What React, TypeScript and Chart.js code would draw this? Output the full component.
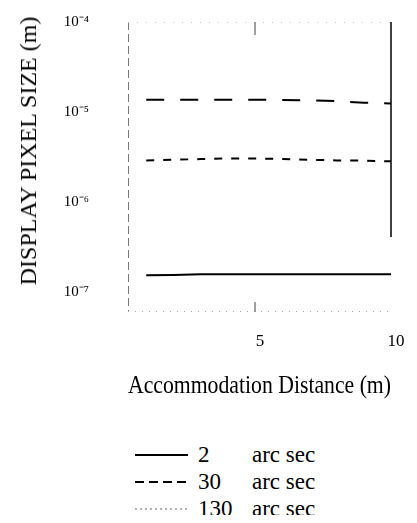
import React, { useEffect, useRef } from "react";
import { Chart, registerables } from "chart.js";

Chart.register(...registerables);

// ---- data ----
const distances = [1, 2, 3, 4, 5, 6, 7, 8, 9, 10];
const series2 = [1.54e-7, 1.55e-7, 1.58e-7, 1.58e-7, 1.58e-7, 1.58e-7, 1.58e-7, 1.58e-7, 1.58e-7, 1.58e-7];
const series30 = [2.9e-6, 2.95e-6, 3.0e-6, 3.05e-6, 3.05e-6, 3.0e-6, 2.95e-6, 2.9e-6, 2.88e-6, 2.83e-6];
const series130 = [1.37e-5, 1.37e-5, 1.37e-5, 1.37e-5, 1.37e-5, 1.36e-5, 1.35e-5, 1.32e-5, 1.27e-5, 1.24e-5];
const seriesNumbers = ["2", "30", "130"];
const unitLabel = "arc sec";
const xTicks = [5, 10];
const yTicks = [1e-7, 1e-6, 1e-5, 1e-4];
const yTickLabels = ["10⁻⁷", "10⁻⁶", "10⁻⁵", "10⁻⁴"];
const xTitle = "Accommodation Distance (m)";
const yTitle = "DISPLAY PIXEL SIZE (m)";

const X_MIN = 0.33;
const X_MAX = 10;
const Y_MIN = 6.2e-8;
const Y_MAX = 1e-4;

const SERIF = '"Liberation Serif", "Times New Roman", serif';

// frame (scanned-look borders) and inner tick marks at the first x tick
const frame = {
  id: "frame",
  afterDraw(chart: any) {
    const { ctx, chartArea, scales } = chart;
    const { left, right, top, bottom } = chartArea;
    const seg = (x1: number, y1: number, x2: number, y2: number, color: string, w: number, dash: number[]) => {
      ctx.save();
      ctx.strokeStyle = color;
      ctx.lineWidth = w;
      ctx.setLineDash(dash);
      ctx.beginPath();
      ctx.moveTo(x1, y1);
      ctx.lineTo(x2, y2);
      ctx.stroke();
      ctx.restore();
    };
    // left axis: grey dashed
    seg(left + 0.5, top, left + 0.5, bottom, "#777", 1, [8, 4]);
    // top: faint dotted
    seg(left, top + 0.5, right, top + 0.5, "#c8c8c8", 1, [1, 8]);
    // bottom: faint dotted
    seg(left, bottom - 0.5, right, bottom - 0.5, "#aaa", 1, [1, 6]);
    // right axis: solid black, upper part only
    seg(right, top, right, top + 215, "#000", 1.5, []);
    // inner tick marks at x = 5
    const px = scales.x.getPixelForValue(xTicks[0]);
    seg(px, top, px, top + 13, "#808080", 1.5, []);
    seg(px, bottom, px, bottom - 10, "#808080", 1.5, []);
  },
};

function ChartCanvas() {
  const ref = useRef<HTMLCanvasElement | null>(null);
  useEffect(() => {
    if (!ref.current) return;
    const toPts = (ys: number[]) => distances.map((x, i) => ({ x, y: ys[i] }));
    const base = { borderColor: "#000", borderWidth: 2, pointRadius: 0, fill: false, tension: 0 };
    const chart = new Chart(ref.current, {
      type: "line",
      data: {
        datasets: [
          { ...base, label: `${seriesNumbers[0]} ${unitLabel}`, data: toPts(series2) },
          { ...base, label: `${seriesNumbers[1]} ${unitLabel}`, data: toPts(series30), borderDash: [8, 9] },
          { ...base, label: `${seriesNumbers[2]} ${unitLabel}`, data: toPts(series130), borderDash: [18, 16] },
        ],
      },
      options: {
        animation: false,
        responsive: false,
        maintainAspectRatio: false,
        layout: { padding: { top: 14, right: 26, left: 0, bottom: 0 } },
        plugins: { legend: { display: false }, tooltip: { enabled: false } },
        scales: {
          x: {
            type: "linear",
            min: X_MIN,
            max: X_MAX,
            afterBuildTicks: (s: any) => {
              s.ticks = xTicks.map((v) => ({ value: v }));
            },
            afterFit: (s: any) => {
              s.height = 90;
            },
            grid: { display: false },
            border: { display: false },
            ticks: {
              font: { family: SERIF, size: 17 },
              color: "#000",
              padding: 11,
              labelOffset: 5,
              maxRotation: 0,
            },
            title: {
              display: true,
              text: xTitle,
              font: { family: SERIF, size: 26 },
              color: "#000",
              padding: { top: 27, bottom: 0 },
            },
          },
          y: {
            type: "logarithmic",
            min: Y_MIN,
            max: Y_MAX,
            afterBuildTicks: (s: any) => {
              s.ticks = yTicks.map((v) => ({ value: v }));
            },
            afterFit: (s: any) => {
              s.width = 120;
              s.paddingTop = 8;
              s.paddingBottom = 8;
            },
            grid: { display: false },
            border: { display: false },
            ticks: {
              font: { family: SERIF, size: 15 },
              color: "#000",
              padding: 31,
              callback: (_v: any, i: number) => yTickLabels[i],
            },
          },
        },
      } as any,
      plugins: [frame],
    });
    return () => chart.destroy();
  }, []);
  return <canvas ref={ref} width={409} height={394} style={{ display: "block" }} />;
}

const legendStyles = [
  { stroke: "#000", dash: "", width: 2 },
  { stroke: "#000", dash: "9 5", width: 1.8 },
  { stroke: "#9a9a9a", dash: "2 3", width: 1.3 },
];

export default function App() {
  return (
    <div
      style={{
        position: "relative",
        width: 409,
        height: 507,
        fontFamily: SERIF,
        color: "#000",
      }}
    >
      <ChartCanvas />
      <div
        style={{
          position: "absolute",
          left: 20,
          top: 143,
          transform: "translate(-50%, -50%) rotate(-90deg)",
          whiteSpace: "nowrap",
          fontSize: 24,
          lineHeight: "24px",
        }}
      >
        {yTitle}
      </div>
      {seriesNumbers.map((n, i) => (
        <div
          key={n}
          style={{
            position: "absolute",
            left: 127,
            top: 447 + i * 27 - 14,
            height: 28,
            display: "flex",
            alignItems: "center",
            fontSize: 23,
            whiteSpace: "nowrap",
          }}
        >
          <svg width={53} height={6} style={{ display: "block" }}>
            <line
              x1={0}
              y1={3}
              x2={53}
              y2={3}
              stroke={legendStyles[i].stroke}
              strokeWidth={legendStyles[i].width}
              strokeDasharray={legendStyles[i].dash || undefined}
            />
          </svg>
          <span style={{ display: "inline-block", width: 54, marginLeft: 10 }}>{n}</span>
          <span>{unitLabel}</span>
        </div>
      ))}
    </div>
  );
}
